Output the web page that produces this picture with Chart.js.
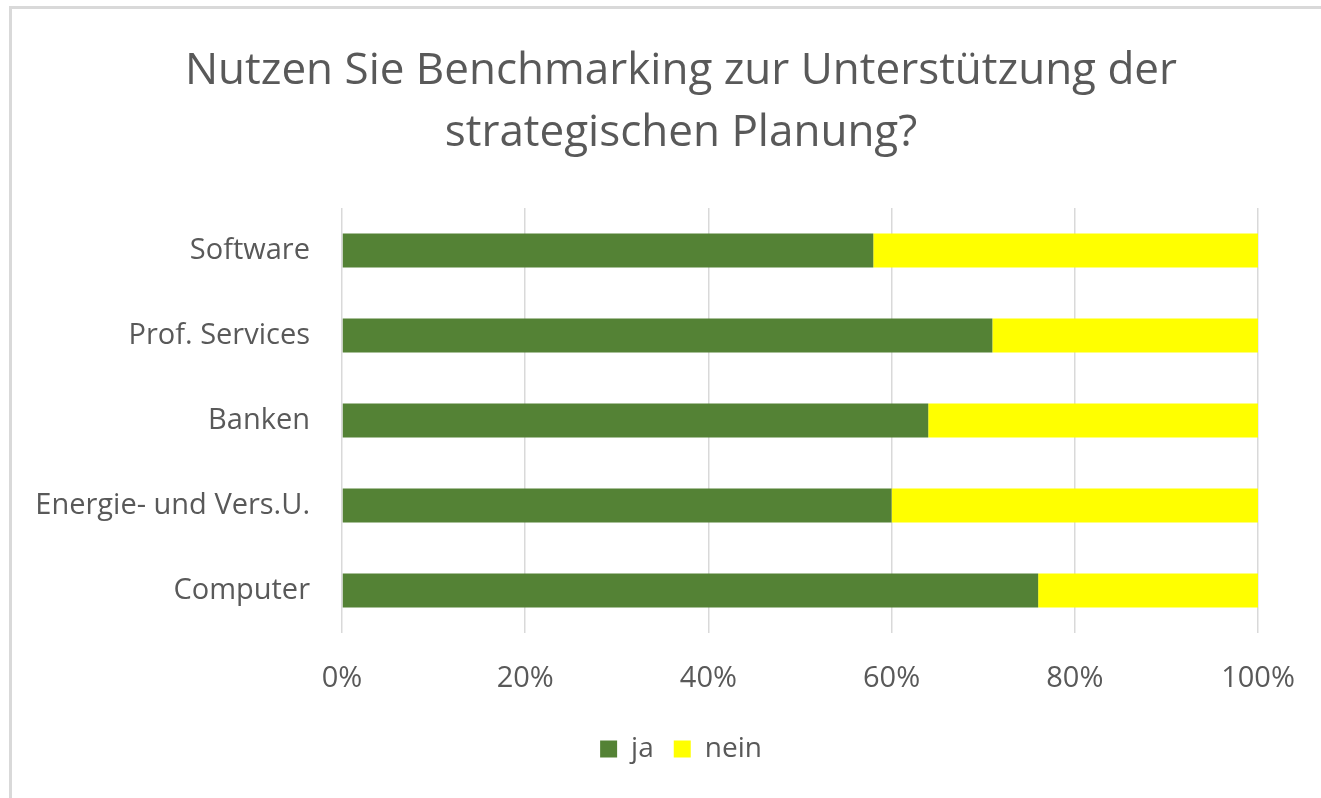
<!DOCTYPE html>
<html>
<head>
<meta charset="utf-8">
<script src="https://cdn.jsdelivr.net/npm/chart.js@4/dist/chart.umd.min.js"></script>
<style>
    html, body { margin: 0; padding: 0; background: #fff; overflow: hidden; }
    #frame {
        position: absolute; left: 9px; top: 6px;
        width: 2000px; height: 2000px;
        border: 3px solid #d9d9d9;
    }
    /* a bit wider than the window so title + legend centre like the original */
    #wrap { position: absolute; left: 0; top: 0; width: 1342px; height: 798px; }
</style>
</head>
<body>
<div id="frame"></div>
<div id="wrap"><canvas id="benchChart"></canvas></div>
<script>
const categories = ["Software", "Prof. Services", "Banken", "Energie- und Vers.U.", "Computer"];
const jaValues = [58, 71, 64, 60, 76];
const neinValues = [42, 29, 36, 40, 24];
const titleLines = ["Nutzen Sie Benchmarking zur Unterstützung der", "strategischen Planung?"];

const textColor = "#595959";
const fontFamily = "'Open Sans', sans-serif";

const ctx = document.getElementById("benchChart").getContext("2d");

const benchChart = new Chart(ctx, {
    type: "bar",
    data: {
        labels: categories,
        datasets: [
            {
                label: "ja",
                data: jaValues,
                backgroundColor: "#548235",
                barPercentage: 0.4,
                categoryPercentage: 1,
            },
            {
                label: "nein",
                data: neinValues,
                backgroundColor: "#ffff00",
                barPercentage: 0.4,
                categoryPercentage: 1,
            },
        ],
    },
    options: {
        indexAxis: "y",
        responsive: true,
        maintainAspectRatio: false,
        animation: false,
        layout: {
            padding: { left: 20, right: 0, top: 30, bottom: 25 },
        },
        plugins: {
            title: {
                display: true,
                text: titleLines,
                color: textColor,
                font: { family: fontFamily, size: 44, weight: "normal", lineHeight: 1.41 },
                padding: { top: 10, bottom: 44 },
            },
            legend: {
                position: "bottom",
                labels: {
                    color: textColor,
                    font: { family: fontFamily, size: 28 },
                    boxWidth: 17,
                    boxHeight: 17,
                    padding: 20,
                },
            },
            tooltip: { enabled: false },
        },
        scales: {
            x: {
                stacked: true,
                min: 0,
                max: 100,
                ticks: {
                    stepSize: 20,
                    color: textColor,
                    font: { family: fontFamily, size: 29 },
                    padding: 28,
                    callback: (v) => v + "%",
                },
                grid: { color: "#d9d9d9", lineWidth: 1.5, drawTicks: false },
                border: { display: false },
                afterFit: (scale) => { scale.height = 82; },
            },
            y: {
                stacked: true,
                ticks: {
                    color: textColor,
                    font: { family: fontFamily, size: 29 },
                    padding: 32,
                },
                grid: { display: false, drawTicks: false },
                border: { display: false },
                afterFit: (scale) => { scale.width = 322; },
            },
            // empty spacer on the right, keeps the plot right edge in place
            yRight: {
                type: "category",
                position: "right",
                labels: categories,
                ticks: { display: false },
                grid: { display: false, drawTicks: false },
                border: { display: false },
                afterFit: (scale) => { scale.width = 84; },
            },
        },
    },
});
</script>
</body>
</html>
